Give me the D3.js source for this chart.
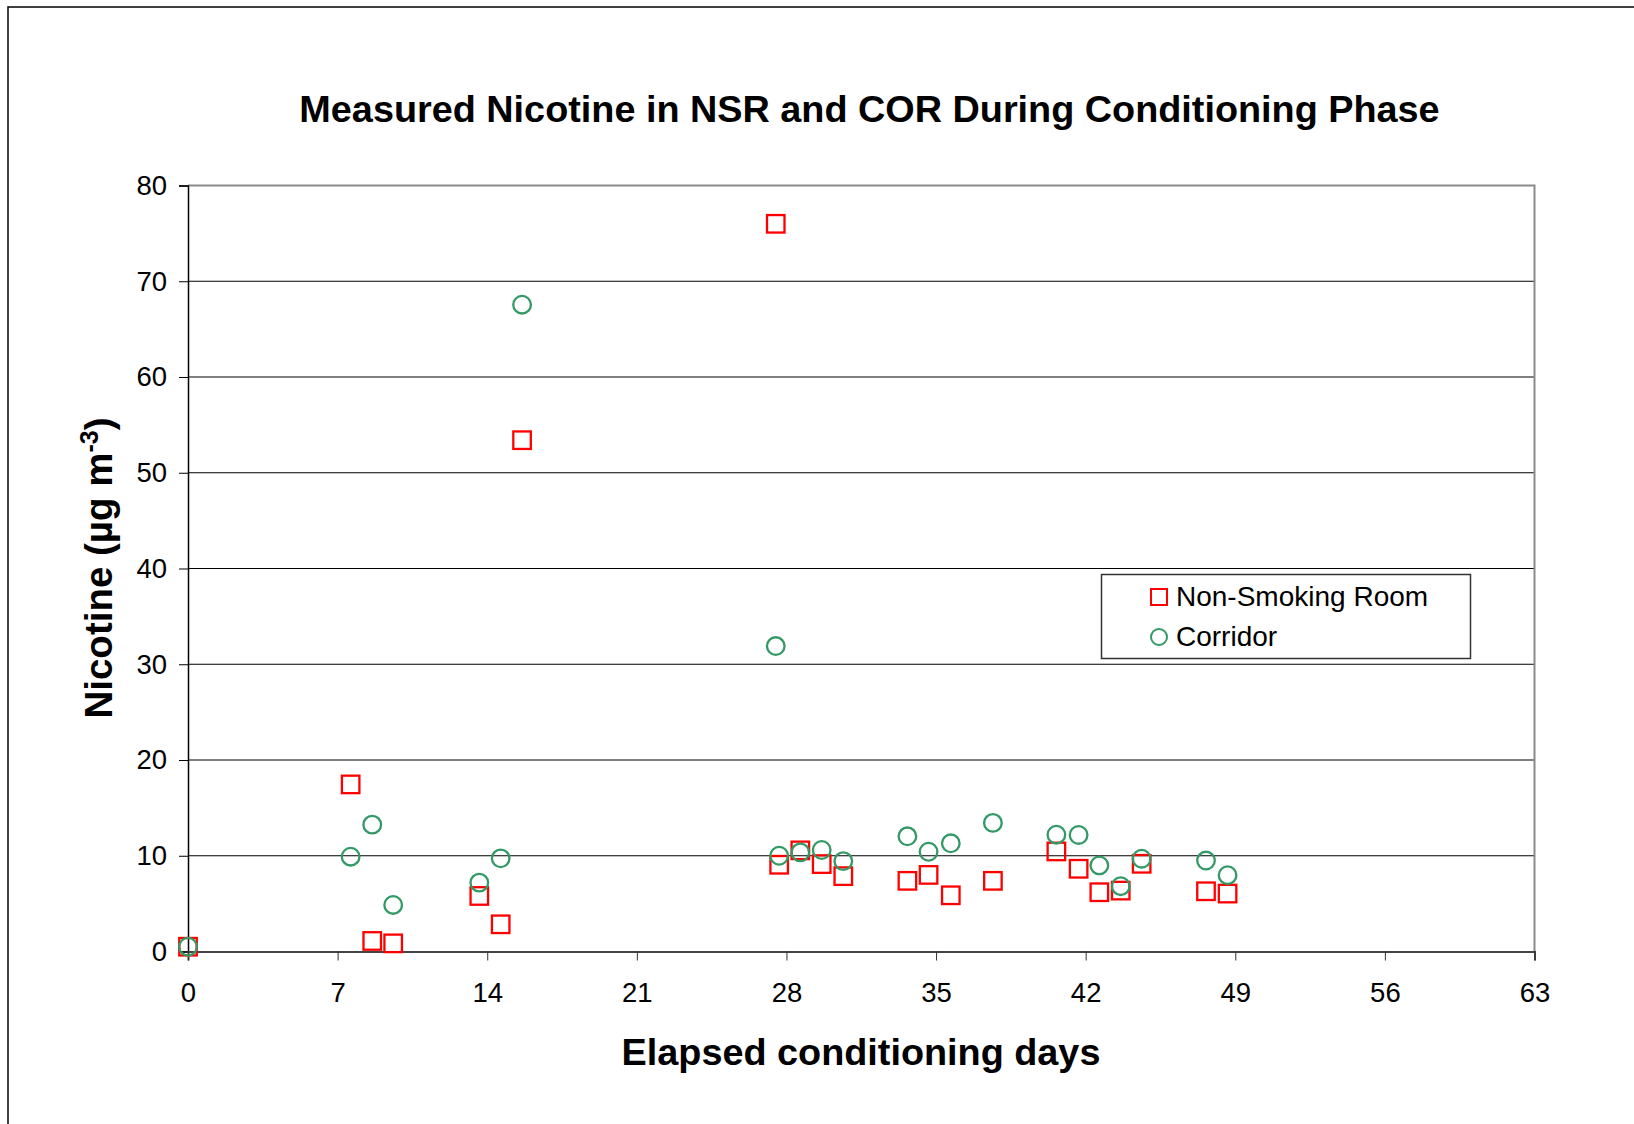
<!DOCTYPE html>
<html>
<head>
<meta charset="utf-8">
<script src="https://cdn.jsdelivr.net/npm/d3@7/dist/d3.min.js"></script>
<style>
  html, body { margin: 0; padding: 0; background: #fff; }
  svg { display: block; }
  text { font-family: "Liberation Sans", Arial, sans-serif; }
</style>
</head>
<body>
<svg id="chart" width="1634" height="1124"></svg>
<script>
// ---- Data ----
const titleText = "Measured Nicotine in NSR and COR During Conditioning Phase";
const xTitle = "Elapsed conditioning days";
const xTicks = [0, 7, 14, 21, 28, 35, 42, 49, 56, 63];
const yTicks = [0, 10, 20, 30, 40, 50, 60, 70, 80];
const seriesNames = ["Non-Smoking Room", "Corridor"];

const nsrDays   = [0, 7.61, 8.62, 9.6, 13.63, 14.63, 15.63, 27.5, 27.66, 28.65, 29.65, 30.66, 33.66, 34.65, 35.69, 37.66, 40.63, 41.67, 42.64, 43.64, 44.62, 47.63, 48.64];
const nsrValues = [0.5, 17.45, 1.1, 0.85, 5.8, 2.84, 53.4, 76.0, 9.06, 10.56, 9.13, 7.87, 7.38, 8.0, 5.87, 7.38, 10.45, 8.64, 6.19, 6.36, 9.16, 6.29, 6.05];

const corDays   = [0, 7.61, 8.62, 9.6, 13.63, 14.63, 15.63, 27.5, 27.66, 28.65, 29.65, 30.66, 33.66, 34.65, 35.69, 37.66, 40.63, 41.67, 42.64, 43.64, 44.62, 47.63, 48.64];
const corValues = [0.5, 9.9, 13.25, 4.86, 7.19, 9.73, 67.55, 31.9, 10.0, 10.35, 10.6, 9.44, 12.03, 10.42, 11.3, 13.43, 12.2, 12.17, 8.99, 6.82, 9.69, 9.5, 7.97];

// ---- Layout ----
const svg = d3.select("#chart");
const L = 188, R = 1534.5, T = 185.5, B = 951.5;
const x = d3.scaleLinear().domain([0, 63]).range([L, R]);
const y = d3.scaleLinear().domain([0, 80]).range([B, T]);
const red = "#ff0000", green = "#339966";

// outer frame
svg.append("rect").attr("x", 8).attr("y", 7).attr("width", 1700).attr("height", 1200)
  .attr("fill", "none").attr("stroke", "#000").attr("stroke-width", 1.5);

// title
svg.append("text").attr("x", 869.5).attr("y", 122).attr("text-anchor", "middle")
  .attr("font-size", 37.8).attr("font-weight", "bold").text(titleText);

// gridlines
svg.append("g").selectAll("line").data(yTicks.filter(d => d > 0 && d < 80)).join("line")
  .attr("x1", L).attr("x2", R).attr("y1", d => y(d)).attr("y2", d => y(d))
  .attr("stroke", "#000").attr("stroke-width", 1);

// plot border top/right
svg.append("path").attr("d", `M${L},${T}H${R}V${B}`).attr("fill", "none")
  .attr("stroke", "#8a8a8a").attr("stroke-width", 2);

// y axis
const yAxis = svg.append("g").attr("transform", `translate(${L},0)`)
  .call(d3.axisLeft(y).tickValues(yTicks).tickSize(9).tickPadding(12).tickFormat(d3.format("d")));
yAxis.select(".domain").attr("stroke", "#000").attr("stroke-width", 1.5);
yAxis.selectAll(".tick line").attr("stroke", "#000");
yAxis.selectAll(".tick text").attr("font-size", 27.5).attr("fill", "#000")
  .attr("font-family", "'Liberation Sans', Arial, sans-serif");

// x axis
const xAxis = svg.append("g").attr("transform", `translate(0,${B})`)
  .call(d3.axisBottom(x).tickValues(xTicks).tickSize(9).tickPadding(22).tickFormat(d3.format("d")));
xAxis.select(".domain").attr("stroke", "#444").attr("stroke-width", 2);
xAxis.selectAll(".tick line").attr("stroke", "#333");
xAxis.selectAll(".tick text").attr("font-size", 27.5).attr("fill", "#000")
  .attr("font-family", "'Liberation Sans', Arial, sans-serif");

// x title
svg.append("text").attr("x", 861).attr("y", 1065).attr("text-anchor", "middle")
  .attr("font-size", 37.8).attr("font-weight", "bold").text(xTitle);

// y title
const yt = svg.append("text").attr("transform", "translate(112,568) rotate(-90)")
  .attr("text-anchor", "middle").attr("font-size", 38.5).attr("font-weight", "bold");
yt.append("tspan").text("Nicotine (\u00B5g m");
yt.append("tspan").attr("dy", -14).attr("font-size", 25).text("-3");
yt.append("tspan").attr("dy", 14).text(")");

// markers
const sq = 17.5, cr = 8.8;
const nsr = nsrDays.map((d, i) => ({ d, v: nsrValues[i] }));
const cor = corDays.map((d, i) => ({ d, v: corValues[i] }));

svg.append("g").selectAll("rect").data(nsr).join("rect")
  .attr("x", p => x(p.d) - sq / 2).attr("y", p => y(p.v) - sq / 2)
  .attr("width", sq).attr("height", sq)
  .attr("fill", "none").attr("stroke", red).attr("stroke-width", 2.3);

svg.append("g").selectAll("circle").data(cor).join("circle")
  .attr("cx", p => x(p.d)).attr("cy", p => y(p.v)).attr("r", cr)
  .attr("fill", "none").attr("stroke", green).attr("stroke-width", 2.3);

// legend
const lg = svg.append("g");
lg.append("rect").attr("x", 1101.5).attr("y", 574.5).attr("width", 369).attr("height", 84)
  .attr("fill", "#fff").attr("stroke", "#333").attr("stroke-width", 1.5);
lg.append("rect").attr("x", 1159 - 8).attr("y", 597 - 8).attr("width", 16).attr("height", 16)
  .attr("fill", "none").attr("stroke", red).attr("stroke-width", 2);
lg.append("circle").attr("cx", 1159).attr("cy", 637).attr("r", 8)
  .attr("fill", "none").attr("stroke", green).attr("stroke-width", 2);
lg.append("text").attr("x", 1176).attr("y", 606).attr("font-size", 28).text(seriesNames[0]);
lg.append("text").attr("x", 1176).attr("y", 646).attr("font-size", 28).text(seriesNames[1]);
</script>
</body>
</html>
